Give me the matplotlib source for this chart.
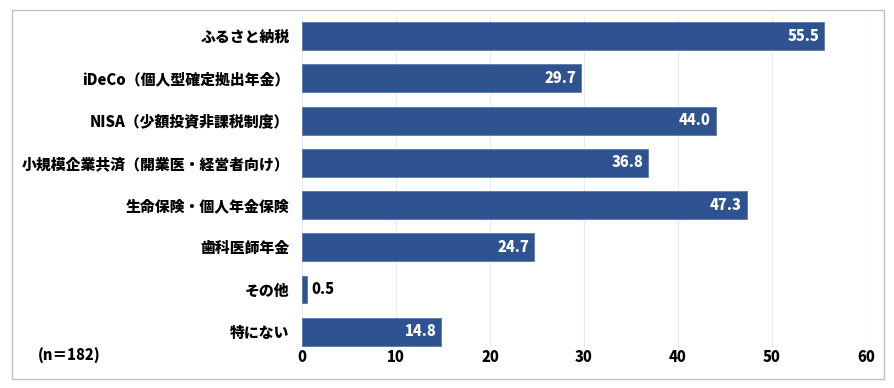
import numpy as np
import matplotlib.pyplot as plt
from matplotlib.patches import Rectangle

plt.rcParams['font.family'] = ['Noto Sans CJK JP', 'DejaVu Sans']

labels = ["ふるさと納税", "iDeCo（個人型確定拠出年金）", "NISA（少額投資非課税制度）",
          "小規模企業共済（開業医・経営者向け）", "生命保険・個人年金保険", "歯科医師年金",
          "その他", "特にない"]
values = [55.5, 29.7, 44.0, 36.8, 47.3, 24.7, 0.5, 14.8]
ticks = [0, 10, 20, 30, 40, 50, 60]
note = "(n＝182)"

bar_color = "#2F5390"

fig = plt.figure(figsize=(8.95, 3.88), dpi=100)
ax = fig.add_axes([302/895, 1-347/388, 564/895, 332/388])

y = np.arange(len(labels))
ax.barh(y, values, height=0.66, color=bar_color, edgecolor="#5A78AA", linewidth=0.6, zorder=3)

for yi, v in zip(y, values):
    if v >= 5:
        ax.text(v - 0.5, yi, f"{v:.1f}", ha="right", va="center", color="white",
                fontsize=10.5, fontweight="black", zorder=4)
    else:
        ax.text(v + 0.5, yi, f"{v:.1f}", ha="left", va="center", color="black",
                fontsize=10.5, fontweight="black", zorder=4)

ax.set_xlim(0, 60)
ax.set_ylim(7.36, -0.5)
ax.set_xticks(ticks)
ax.set_xticklabels([str(t) for t in ticks], fontsize=10.5, fontweight="black")
ax.set_yticks(y)
ax.set_yticklabels(labels, fontsize=10.7, fontweight="black")
ax.tick_params(length=0, pad=9)
ax.tick_params(axis="x", pad=2)
ax.grid(axis="x", color="#EBEBEB", linewidth=0.8, zorder=0)
for s in ax.spines.values():
    s.set_visible(False)

fig.text(38/895, 1-356/388, note, fontsize=10.5, fontweight="black", ha="left", va="center")

fig.patches.append(Rectangle((12/895, 1-379/388), 872/895, 369/388, transform=fig.transFigure,
                             fill=False, edgecolor="#BFBFBF", linewidth=1.0))

fig.savefig("out.png", dpi=100)
